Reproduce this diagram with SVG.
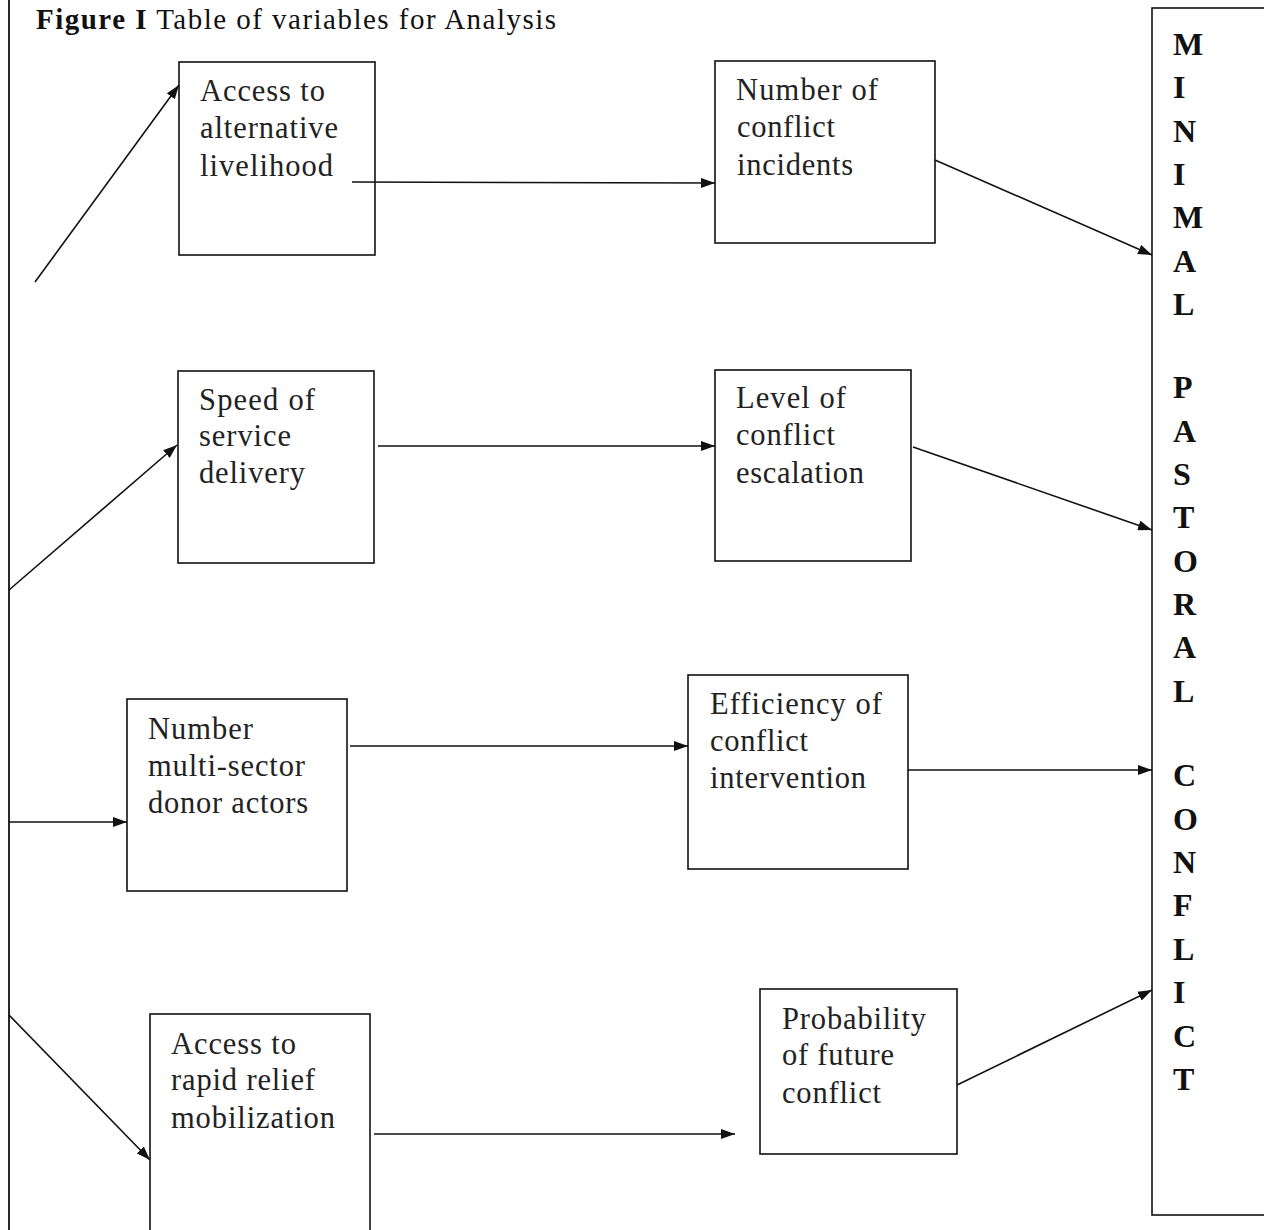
<svg xmlns="http://www.w3.org/2000/svg" width="1264" height="1230" viewBox="0 0 1264 1230">
<style>
.box{fill:#fff;stroke:#111;stroke-width:1.6}
.t{font-family:"Liberation Serif","Times New Roman",serif;font-size:30.5px;fill:#222}
.v{font-family:"Liberation Serif","Times New Roman",serif;font-size:32px;font-weight:bold;fill:#111}
.c{stroke:#111;stroke-width:1.6;fill:none;marker-end:url(#ah)}
</style>
<defs>
<marker id="ah" viewBox="0 0 14 10" refX="14" refY="5" markerWidth="14" markerHeight="10" markerUnits="userSpaceOnUse" orient="auto">
<path d="M0,0 L14,5 L0,10 z" fill="#111"/>
</marker>
</defs>
<rect width="1264" height="1230" fill="#fff"/>
<text x="36" y="29" font-family="Liberation Serif,Times New Roman,serif" font-size="29" fill="#111" textLength="520" lengthAdjust="spacing"><tspan font-weight="bold">Figure I</tspan> Table of variables for Analysis</text>
<line x1="9" y1="0" x2="9" y2="1230" stroke="#111" stroke-width="1.8"/>
<g id="n1"><rect class="box" x="179" y="62" width="196" height="193"/><text class="t" x="200" y="101" textLength="125">Access to</text><text class="t" x="200" y="138" textLength="138">alternative</text><text class="t" x="200" y="176" textLength="133">livelihood</text></g>
<g id="n2"><rect class="box" x="715" y="61" width="220" height="182"/><text class="t" x="736" y="100" textLength="142">Number of</text><text class="t" x="737" y="137" textLength="98">conflict</text><text class="t" x="737" y="175" textLength="116">incidents</text></g>
<g id="n3"><rect class="box" x="178" y="371" width="196" height="192"/><text class="t" x="199" y="410" textLength="116">Speed of</text><text class="t" x="199" y="446" textLength="92">service</text><text class="t" x="199" y="483" textLength="106">delivery</text></g>
<g id="n4"><rect class="box" x="715" y="370" width="196" height="191"/><text class="t" x="736" y="408" textLength="110">Level of</text><text class="t" x="736" y="445" textLength="99">conflict</text><text class="t" x="736" y="483" textLength="128">escalation</text></g>
<g id="n5"><rect class="box" x="127" y="699" width="220" height="192"/><text class="t" x="148" y="739" textLength="105">Number</text><text class="t" x="148" y="776" textLength="157">multi-sector</text><text class="t" x="148" y="813" textLength="160">donor actors</text></g>
<g id="n6"><rect class="box" x="688" y="675" width="220" height="194"/><text class="t" x="710" y="714" textLength="172">Efficiency of</text><text class="t" x="710" y="751" textLength="98">conflict</text><text class="t" x="710" y="788" textLength="156">intervention</text></g>
<g id="n7"><rect class="box" x="150" y="1014" width="220" height="230"/><text class="t" x="171" y="1054" textLength="125">Access to</text><text class="t" x="171" y="1090" textLength="144">rapid relief</text><text class="t" x="171" y="1128" textLength="164">mobilization</text></g>
<g id="n8"><rect class="box" x="760" y="989" width="197" height="165"/><text class="t" x="782" y="1029" textLength="144">Probability</text><text class="t" x="782" y="1065" textLength="112">of future</text><text class="t" x="782" y="1103" textLength="99">conflict</text></g>
<g id="n9"><rect class="box" x="1152" y="8" width="130" height="1207"/>
<g class="v">
<text x="1173" y="55">M</text><text x="1173" y="98">I</text><text x="1173" y="142">N</text><text x="1173" y="185">I</text><text x="1173" y="228">M</text><text x="1173" y="272">A</text><text x="1173" y="315">L</text>
<text x="1173" y="398">P</text><text x="1173" y="442">A</text><text x="1173" y="485">S</text><text x="1173" y="528">T</text><text x="1173" y="572">O</text><text x="1173" y="615">R</text><text x="1173" y="658">A</text><text x="1173" y="702">L</text>
<text x="1173" y="786">C</text><text x="1173" y="830">O</text><text x="1173" y="873">N</text><text x="1173" y="916">F</text><text x="1173" y="960">L</text><text x="1173" y="1003">I</text><text x="1173" y="1047">C</text><text x="1173" y="1090">T</text>
</g></g>
<g id="connectors">
<line class="c" x1="35" y1="282" x2="179" y2="85"/>
<line class="c" x1="9" y1="590" x2="177" y2="445"/>
<line class="c" x1="9" y1="822" x2="127" y2="822"/>
<line class="c" x1="9" y1="1015" x2="150" y2="1160"/>
<line class="c" x1="352" y1="182" x2="715" y2="183"/>
<line class="c" x1="378" y1="446" x2="715" y2="446"/>
<line class="c" x1="350" y1="746" x2="688" y2="746"/>
<line class="c" x1="374" y1="1134" x2="735" y2="1134"/>
<line class="c" x1="935" y1="160" x2="1152" y2="255"/>
<line class="c" x1="913" y1="447" x2="1152" y2="530"/>
<line class="c" x1="908" y1="770" x2="1152" y2="770"/>
<line class="c" x1="957" y1="1085" x2="1152" y2="990"/>
</g>
</svg>
